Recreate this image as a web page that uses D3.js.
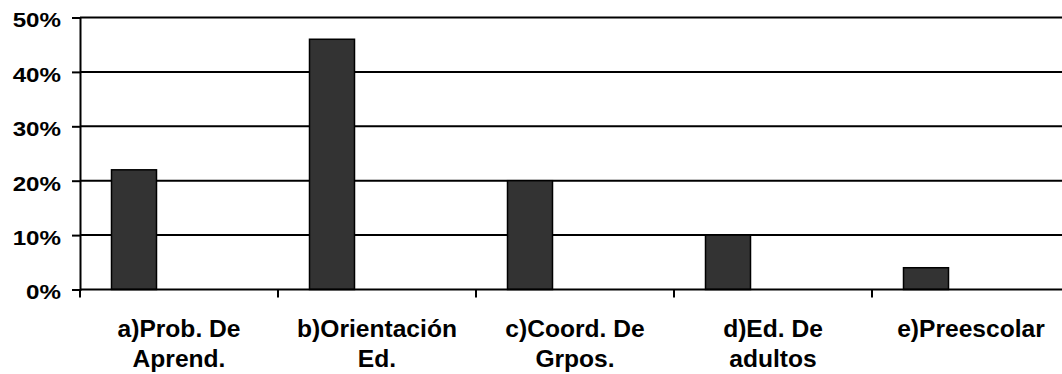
<!DOCTYPE html>
<html>
<head>
<meta charset="utf-8">
<script src="https://cdn.jsdelivr.net/npm/d3@7"></script>
<style>
  html, body { margin: 0; padding: 0; background: #fff; }
  svg { display: block; }
  text { font-family: "Liberation Sans", Arial, sans-serif; font-weight: bold; fill: #000; }
</style>
</head>
<body>
<svg id="chart" width="1062" height="374"></svg>
<script>
// Categories (each label split into its two printed lines)
const categories = [
  ["a)Prob. De", "Aprend."],
  ["b)Orientación", "Ed."],
  ["c)Coord. De", "Grpos."],
  ["d)Ed. De", "adultos"],
  ["e)Preescolar"]
];
// Series slots per category; only the first carries values
const seriesNames = ["s1", "s2", "s3"];
const values = [0.22, 0.46, 0.20, 0.10, 0.04];
const yTicks = [0, 0.1, 0.2, 0.3, 0.4, 0.5];

const svg = d3.select("#chart");
const W = 1062;
const plotLeft = 80, plotRight = 1070, plotTop = 17.5, plotBottom = 289.5;

const keys = categories.map((c, i) => i);
const x = d3.scaleBand().domain(keys).range([plotLeft, plotRight]).paddingInner(0).paddingOuter(0);
const xs = d3.scaleBand().domain(seriesNames).range([0, x.bandwidth()]).paddingInner(0).paddingOuter(0.7);
const y = d3.scaleLinear().domain([0, 0.5]).range([plotBottom, plotTop]);

// Horizontal gridlines
svg.append("g")
  .selectAll("line")
  .data(yTicks.filter(d => d > 0))
  .join("line")
  .attr("x1", plotLeft).attr("x2", W)
  .attr("y1", d => y(d)).attr("y2", d => y(d))
  .attr("stroke", "#000").attr("stroke-width", 2);

// Bars
svg.append("g")
  .selectAll("rect")
  .data(values)
  .join("rect")
  .attr("x", (d, i) => x(i) + xs("s1"))
  .attr("y", d => y(d))
  .attr("width", xs.bandwidth())
  .attr("height", d => y(0) - y(d))
  .attr("fill", "#333333")
  .attr("stroke", "#000")
  .attr("stroke-width", 1.5);

// Y axis
const yAxis = d3.axisLeft(y)
  .tickValues(yTicks)
  .tickFormat(d3.format(".0%"))
  .tickSize(8)
  .tickPadding(11);
const gy = svg.append("g").attr("transform", `translate(${plotLeft},0)`).call(yAxis);
gy.select(".domain").attr("stroke", "#000").attr("stroke-width", 2);
gy.selectAll(".tick line").attr("stroke", "#000").attr("stroke-width", 2);
gy.selectAll(".tick text")
  .attr("x", 0)
  .attr("transform", "translate(-19,0) scale(1.15,1)")
  .attr("font-size", 21)
  .attr("dy", "0.45em")
  .style("font-family", '"Liberation Sans", Arial, sans-serif')
  .style("font-weight", "bold")
  .attr("fill", "#000");

// X axis (category boundaries carry tick marks)
const gx = svg.append("g").attr("transform", `translate(0,${plotBottom})`);
gx.append("line")
  .attr("x1", plotLeft).attr("x2", W)
  .attr("stroke", "#000").attr("stroke-width", 2);
gx.selectAll("line.tk")
  .data(keys.concat([keys.length]))
  .join("line")
  .attr("class", "tk")
  .attr("x1", i => plotLeft + i * x.step())
  .attr("x2", i => plotLeft + i * x.step())
  .attr("y1", 0).attr("y2", 8)
  .attr("stroke", "#000").attr("stroke-width", 2);

const labels = gx.selectAll("text.cat")
  .data(categories)
  .join("text")
  .attr("class", "cat")
  .attr("text-anchor", "middle")
  .attr("font-size", 23)
  .attr("transform", (d, i) => `translate(${x(i) + x.bandwidth() / 2},0) scale(1.07,1)`);
labels.selectAll("tspan")
  .data(d => d)
  .join("tspan")
  .attr("x", 0)
  .attr("y", (d, j) => 48 + j * 30)
  .text(d => d);
</script>
</body>
</html>
